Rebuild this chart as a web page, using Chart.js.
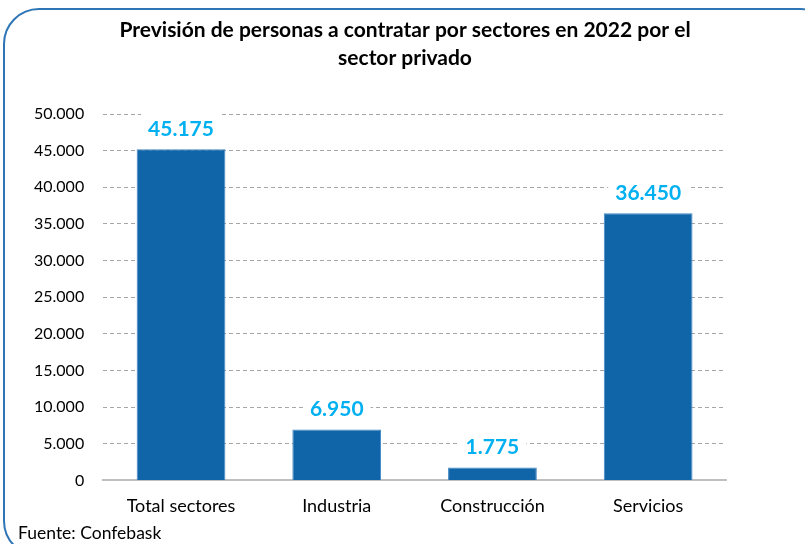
<!DOCTYPE html>
<html>
<head>
<meta charset="utf-8">
<script src="https://cdn.jsdelivr.net/npm/chart.js@4.4.0/dist/chart.umd.min.js"></script>
<style>
  html, body { margin: 0; padding: 0; background: #fff; }
  #wrap { position: relative; width: 805px; height: 544px; overflow: hidden; }
  #frame {
    position: absolute; left: 3px; top: 8px; width: 830px; height: 545px;
    border: 2px solid #2E75B6; border-radius: 36px; pointer-events: none;
  }
  #chartBox { position: absolute; left: 0; top: 0; width: 805px; height: 544px; }
  #source {
    position: absolute; left: 18px; top: 522px;
    font-family: Lato, sans-serif; font-size: 17.5px; color: #000;
  }
</style>
</head>
<body>
<div id="wrap">
  <div id="chartBox"><canvas id="sectorChart" width="805" height="544"></canvas></div>
  <div id="frame"></div>
  <div id="source">Fuente: Confebask</div>
</div>
<script>
// datos
const categories = ["Total sectores", "Industria", "Construcción", "Servicios"];
const hires = [45175, 6950, 1775, 36450];
const yTicks = [0, 5000, 10000, 15000, 20000, 25000, 30000, 35000, 40000, 45000, 50000];
const titleLines = ["Previsión de personas a contratar por sectores en 2022 por el", "sector privado"];

const fmt = (v) => v.toLocaleString("de-DE");

// titulo centrado en el recuadro (no en el area del grafico)
const chartTitle = {
  id: "chartTitle",
  afterDraw(chart) {
    const ctx = chart.ctx;
    ctx.save();
    ctx.font = "bold 21px Lato, sans-serif";
    ctx.fillStyle = "#000";
    ctx.textAlign = "center";
    ctx.textBaseline = "middle";
    titleLines.forEach((line, i) => ctx.fillText(line, 405, 30 + i * 28));
    ctx.restore();
  },
};

// etiquetas encima de las barras con fondo blanco
const barLabels = {
  id: "barLabels",
  afterDatasetsDraw(chart) {
    const ctx = chart.ctx;
    const meta = chart.getDatasetMeta(0);
    ctx.save();
    ctx.font = "bold 21px Lato, sans-serif";
    ctx.textAlign = "center";
    ctx.textBaseline = "middle";
    meta.data.forEach((bar, i) => {
      const text = fmt(hires[i]);
      const w = ctx.measureText(text).width;
      const y = bar.y - 21;
      ctx.fillStyle = "#fff";
      ctx.fillRect(bar.x - w / 2 - 7, y - 15, w + 14, 30);
      ctx.fillStyle = "#00B0F0";
      ctx.fillText(text, bar.x, y + 1);
    });
    ctx.restore();
  },
};

new Chart(document.getElementById("sectorChart"), {
  type: "bar",
  data: {
    labels: categories,
    datasets: [
      {
        data: hires,
        backgroundColor: "#1064A8",
        borderColor: "#3F86C4",
        borderWidth: 1,
        categoryPercentage: 1,
        barPercentage: 0.57,
      },
    ],
  },
  options: {
    responsive: false,
    animation: false,
    devicePixelRatio: 1,
    layout: { padding: { left: 15, right: 79, top: 114, bottom: 20 } },
    plugins: {
      legend: { display: false },
      tooltip: { enabled: false },
      title: { display: false },
    },
    scales: {
      x: {
        grid: { display: false },
        border: { display: true, color: "#BFBFBF", width: 2 },
        ticks: { color: "#000", font: { family: "Lato, sans-serif", size: 18 }, padding: 7 },
      },
      y: {
        min: 0,
        max: 50000,
        afterBuildTicks: (axis) => { axis.ticks = yTicks.map((v) => ({ value: v })); },
        grid: {
          color: (c) => (c.tick && c.tick.value === 0 ? "rgba(0,0,0,0)" : "#A6A6A6"),
          lineWidth: 1,
          drawTicks: false,
        },
        border: { display: false, dash: [4, 3] },
        ticks: {
          color: "#000",
          font: { family: "Lato, sans-serif", size: 16 },
          padding: 19,
          callback: (v) => fmt(v),
        },
      },
    },
  },
  plugins: [barLabels, chartTitle],
});
</script>
</body>
</html>
